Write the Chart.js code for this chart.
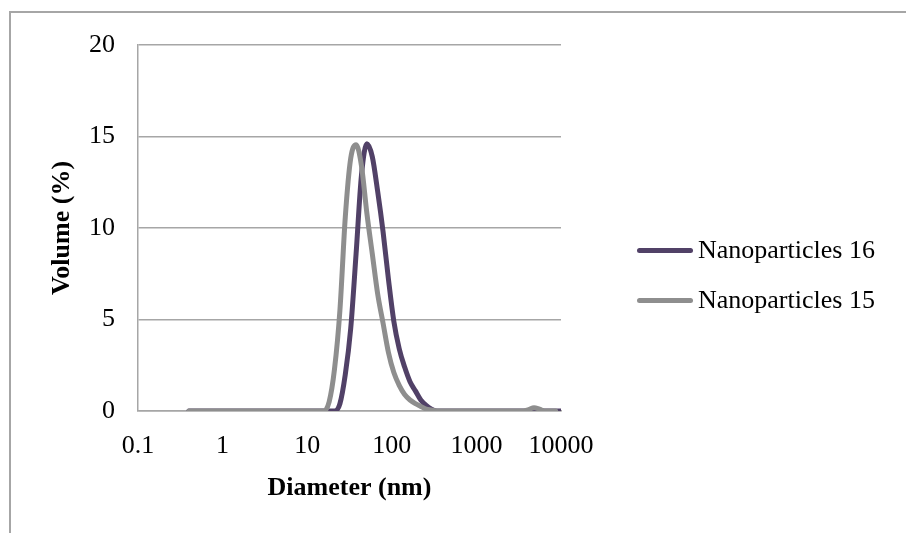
<!DOCTYPE html>
<html lang="en">
<head>
<meta charset="UTF-8">
<title>Volume distribution</title>
<script src="https://cdn.jsdelivr.net/npm/chart.js"></script>
<style>
    body {
        margin: 0;
        background: #fff;
        width: 906px;
        height: 533px;
        overflow: hidden;
        position: relative;
        font-family: "Liberation Serif", "Times New Roman", serif;
    }
    .frame {
        position: absolute;
        left: 9px;
        top: 11px;
        width: 1000px;
        height: 1000px;
        border: 2px solid #a6a6a6;
    }
    .chart-box {
        position: absolute;
        left: 0;
        top: 0;
        width: 906px;
        height: 533px;
    }
    .legend-item {
        position: absolute;
        left: 637px;
        height: 30px;
        display: flex;
        align-items: center;
        white-space: nowrap;
        font-size: 26px;
        color: #000;
    }
    .swatch {
        width: 56px;
        height: 5px;
        border-radius: 3px;
        margin-right: 5px;
    }
</style>
</head>
<body>
<div class="frame"></div>
<div class="chart-box"><canvas id="sizeChart"></canvas></div>
<div id="legend"></div>

<script>
// Zetasizer size classes (nm)
const diameters = [0.4, 0.4632, 0.5365, 0.6213, 0.7195, 0.8332, 0.9649, 1.117, 1.294, 1.499,
    1.736, 2.01, 2.328, 2.696, 3.122, 3.615, 4.187, 4.849, 5.615, 6.503,
    7.531, 8.721, 10.1, 11.7, 13.54, 15.69, 18.17, 21.04, 24.36, 28.21,
    32.67, 37.84, 43.82, 50.75, 58.77, 68.06, 78.82, 91.28, 105.7, 122.4,
    141.8, 164.2, 190.1, 220.2, 255, 295.3, 342, 396.1, 458.7, 531.2,
    615.1, 712.4, 825, 955.4, 1106, 1281, 1484, 1718, 1990, 2305,
    2669, 3091, 3580, 4145, 4801, 5560, 6439, 7456, 8635, 10000];

// Volume (%) per size class
const nano16 = [0, 0, 0, 0, 0, 0, 0, 0, 0, 0,
    0, 0, 0, 0, 0, 0, 0, 0, 0, 0,
    0, 0, 0, 0, 0, 0, 0, 0, 0.4, 2.0,
    4.5, 8.6, 12.9, 14.6, 13.9, 12.0, 9.8, 7.2, 4.9, 3.4,
    2.4, 1.6, 1.1, 0.6, 0.3, 0.1, 0, 0, 0, 0,
    0, 0, 0, 0, 0, 0, 0, 0, 0, 0,
    0, 0, 0, 0, 0, 0, 0, 0, 0, 0];

const nano15 = [0, 0, 0, 0, 0, 0, 0, 0, 0, 0,
    0, 0, 0, 0, 0, 0, 0, 0, 0, 0,
    0, 0, 0, 0, 0, 0, 0.5, 2.3, 5.5, 10.6,
    13.8, 14.55, 13.4, 10.8, 8.6, 6.4, 4.8, 3.2, 2.1, 1.4,
    0.9, 0.6, 0.4, 0.25, 0.1, 0.05, 0, 0, 0, 0,
    0, 0, 0, 0, 0, 0, 0, 0, 0, 0,
    0, 0, 0, 0.08, 0.18, 0.1, 0, 0, 0];

const xTickLabels = ['0.1', '1', '10', '100', '1000', '10000'];
const yTicks = [0, 5, 10, 15, 20];

const seriesNames = ['Nanoparticles 16', 'Nanoparticles 15'];
const seriesColors = ['#514167', '#8e8e8e'];

const gridColor = '#a6a6a6';
const fontFamily = '"Liberation Serif", "Times New Roman", serif';

function toPoints(values) {
    return values.map((v, i) => ({ x: diameters[i], y: v }));
}

const ctx = document.getElementById('sizeChart').getContext('2d');

const sizeChart = new Chart(ctx, {
    type: 'line',
    data: {
        datasets: [
            {
                label: seriesNames[1],
                data: toPoints(nano15),
                borderColor: seriesColors[1],
                borderWidth: 5,
                pointRadius: 0,
                fill: false,
                cubicInterpolationMode: 'monotone',
                borderCapStyle: 'round',
                borderJoinStyle: 'round'
            },
            {
                label: seriesNames[0],
                data: toPoints(nano16),
                borderColor: seriesColors[0],
                borderWidth: 5,
                pointRadius: 0,
                fill: false,
                cubicInterpolationMode: 'monotone',
                borderCapStyle: 'round',
                borderJoinStyle: 'round'
            }
        ]
    },
    options: {
        responsive: true,
        maintainAspectRatio: false,
        animation: false,
        layout: {
            padding: { top: 45, right: 345, left: 0, bottom: 0 }
        },
        plugins: {
            legend: { display: false },
            tooltip: { enabled: false }
        },
        scales: {
            x: {
                type: 'logarithmic',
                min: 0.1,
                max: 10000,
                afterFit: (scale) => { scale.height = 122; },
                afterBuildTicks: (scale) => {
                    scale.ticks = xTickLabels.map(t => ({ value: parseFloat(t) }));
                },
                ticks: {
                    autoSkip: false,
                    maxRotation: 0,
                    padding: 20,
                    color: '#000',
                    font: { family: fontFamily, size: 26 },
                    callback: (value, index) => xTickLabels[index]
                },
                grid: { display: false, drawTicks: false },
                border: { display: true, color: gridColor, width: 1.5 },
                title: {
                    display: true,
                    text: 'Diameter (nm)',
                    color: '#000',
                    font: { family: fontFamily, size: 26, weight: 'bold' },
                    padding: { top: 0, bottom: 29 }
                }
            },
            y: {
                min: 0,
                max: 20,
                afterFit: (scale) => { scale.width = 138; },
                afterBuildTicks: (scale) => {
                    scale.ticks = yTicks.map(v => ({ value: v }));
                },
                ticks: {
                    padding: 23,
                    color: '#000',
                    font: { family: fontFamily, size: 26 }
                },
                grid: { color: gridColor, lineWidth: 1.5, drawTicks: false },
                border: { display: true, color: gridColor, width: 1.5 },
                title: {
                    display: true,
                    text: 'Volume (%)',
                    color: '#000',
                    font: { family: fontFamily, size: 26, weight: 'bold' },
                    padding: { top: 47, bottom: 0 }
                }
            }
        }
    }
});

// legend, N16 first as in the original
const legendEl = document.getElementById('legend');
const legendTops = [235, 285];
seriesNames.forEach((name, i) => {
    const item = document.createElement('div');
    item.className = 'legend-item';
    item.style.top = legendTops[i] + 'px';
    const sw = document.createElement('span');
    sw.className = 'swatch';
    sw.style.background = seriesColors[i];
    const txt = document.createElement('span');
    txt.textContent = name;
    item.appendChild(sw);
    item.appendChild(txt);
    legendEl.appendChild(item);
});
</script>
</body>
</html>
